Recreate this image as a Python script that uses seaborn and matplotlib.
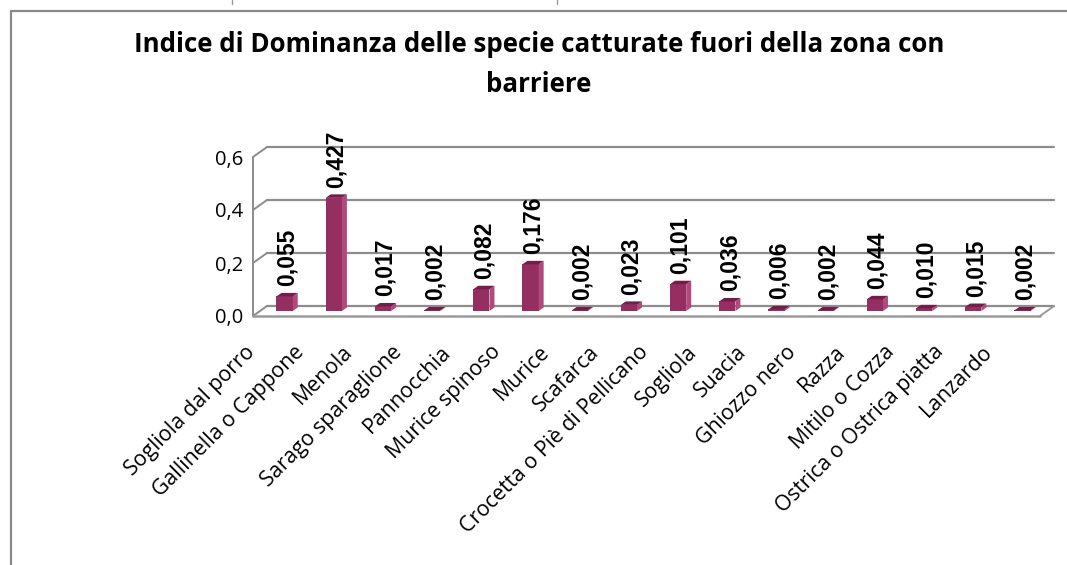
import matplotlib
matplotlib.use("Agg")
import matplotlib.pyplot as plt
import matplotlib.transforms as mtransforms
from matplotlib.patches import Polygon
from matplotlib.lines import Line2D
import seaborn as sns
import pandas as pd

species = [
    "Sogliola dal porro", "Gallinella o Cappone", "Menola", "Sarago sparaglione",
    "Pannocchia", "Murice spinoso", "Murice", "Scafarca",
    "Crocetta o Piè di Pellicano", "Sogliola", "Suacia", "Ghiozzo nero",
    "Razza", "Mitilo o Cozza", "Ostrica o Ostrica piatta", "Lanzardo",
]
dominance = [0.055, 0.427, 0.017, 0.002, 0.082, 0.176, 0.002, 0.023,
             0.101, 0.036, 0.006, 0.002, 0.044, 0.010, 0.015, 0.002]
y_ticks = [0.0, 0.2, 0.4, 0.6]
y_tick_labels = ["0,0", "0,2", "0,4", "0,6"]
title = "Indice di Dominanza delle specie catturate fuori della zona con\nbarriere"

BAR_FRONT = "#952f61"
BAR_SIDE = "#b0497c"
BAR_TOP = "#741d4a"
GRID = "#8c8c8c"

sns.set_theme(style="white")
plt.rcParams["font.family"] = ["Open Sans", "DejaVu Sans"]

W, H, DPI = 1067, 565, 100
fig = plt.figure(figsize=(W / DPI, H / DPI), dpi=DPI)
fig.patch.set_facecolor("white")

# front plane of the 3-D box
x0, x1, yb, yt = 253, 1040, 316, 157
ax = fig.add_axes([x0 / W, (H - yb) / H, (x1 - x0) / W, (yb - yt) / H])

df = pd.DataFrame({"specie": species, "indice": dominance})
sns.barplot(data=df, x="specie", y="indice", color=BAR_FRONT, saturation=1,
            width=0.33, ax=ax, zorder=3, edgecolor="none")

n = len(species)
ax.set_xlim(-0.5, n - 0.5)
ax.set_ylim(0, 0.6)

# depth of the box (pixels) in data units
px_x = n / (x1 - x0)
px_y = 0.6 / (yb - yt)
DX, DY = 14 * px_x, 10 * px_y

# back wall gridlines, left wall diagonals and floor
for v in y_ticks:
    ax.plot([-0.5 + DX, n - 0.5 + DX], [v + DY, v + DY], color=GRID, lw=1.6,
            zorder=1, clip_on=False)
    ax.plot([-0.5, -0.5 + DX], [v, v + DY], color=GRID, lw=1.4, zorder=1,
            clip_on=False)
ax.plot([-0.5, -0.5], [0, 0.6], color=GRID, lw=1.4, zorder=1, clip_on=False)
ax.plot([-0.5, n - 0.5], [0, 0], color="#9a9a9a", lw=1.8, zorder=2, clip_on=False)
ax.plot([n - 0.5, n - 0.5 + DX], [0, DY], color="#9a9a9a", lw=1.4, zorder=2,
        clip_on=False)

# shift bars to the middle of the depth and give them side and top faces
shift = mtransforms.ScaledTranslation(7 / DPI, 5 / DPI, fig.dpi_scale_trans)
sx, sy = 5 * px_x, 3.5 * px_y
for patch, val in zip(ax.patches, dominance):
    bx, bw, h = patch.get_x(), patch.get_width(), patch.get_height()
    patch.set_transform(ax.transData + shift)
    side = Polygon([(bx + bw, 0), (bx + bw + sx, sy), (bx + bw + sx, h + sy),
                    (bx + bw, h)], closed=True, facecolor=BAR_SIDE,
                   edgecolor="none", zorder=4, transform=ax.transData + shift)
    top = Polygon([(bx, h), (bx + bw, h), (bx + bw + sx, h + sy), (bx + sx, h + sy)],
                  closed=True, facecolor=BAR_TOP, edgecolor="none", zorder=4,
                  transform=ax.transData + shift)
    ax.add_patch(side)
    ax.add_patch(top)
    ax.text(bx + bw / 2 + sx / 2, h, f"{val:.3f}".replace(".", ","),
            rotation=90, ha="center", va="bottom", fontsize=16.5,
            fontweight="bold", family=["Liberation Sans", "DejaVu Sans"],
            color="black", zorder=5,
            transform=ax.transData + mtransforms.ScaledTranslation(
                7 / DPI, 15 / DPI, fig.dpi_scale_trans))

for s in ax.spines.values():
    s.set_visible(False)
ax.set_xlabel("")
ax.set_ylabel("")
ax.set_yticks(y_ticks)
ax.set_yticklabels(y_tick_labels, fontsize=14.5, color="black")
ax.tick_params(axis="y", length=0, pad=7)
ax.set_xticks(range(n))
ax.set_xticklabels(species, rotation=45, rotation_mode="anchor", ha="right",
                   va="center", fontsize=15.3, color="black")
ax.tick_params(axis="x", length=0, pad=0)
lab_shift = mtransforms.ScaledTranslation(-26 / DPI, -33 / DPI, fig.dpi_scale_trans)
for lab in ax.get_xticklabels():
    lab.set_transform(lab.get_transform() + lab_shift)
ax.patch.set_alpha(0)

fig.text(539 / W, 1 - 64.5 / H, title, ha="center", va="center", fontsize=18.6,
         fontweight="bold", linespacing=1.6, color="black")

# chart area frame
fig.add_artist(Line2D([11 / W, 11 / W], [0, 1 - 11 / H], color="#8a8a8a", lw=1.6))
fig.add_artist(Line2D([11 / W, 1], [1 - 11 / H, 1 - 11 / H], color="#8a8a8a", lw=1.6))
for xp in (232, 557):
    fig.add_artist(Line2D([xp / W, xp / W], [1 - 4 / H, 1], color="#999999", lw=1))

fig.savefig("out.png", dpi=DPI)
